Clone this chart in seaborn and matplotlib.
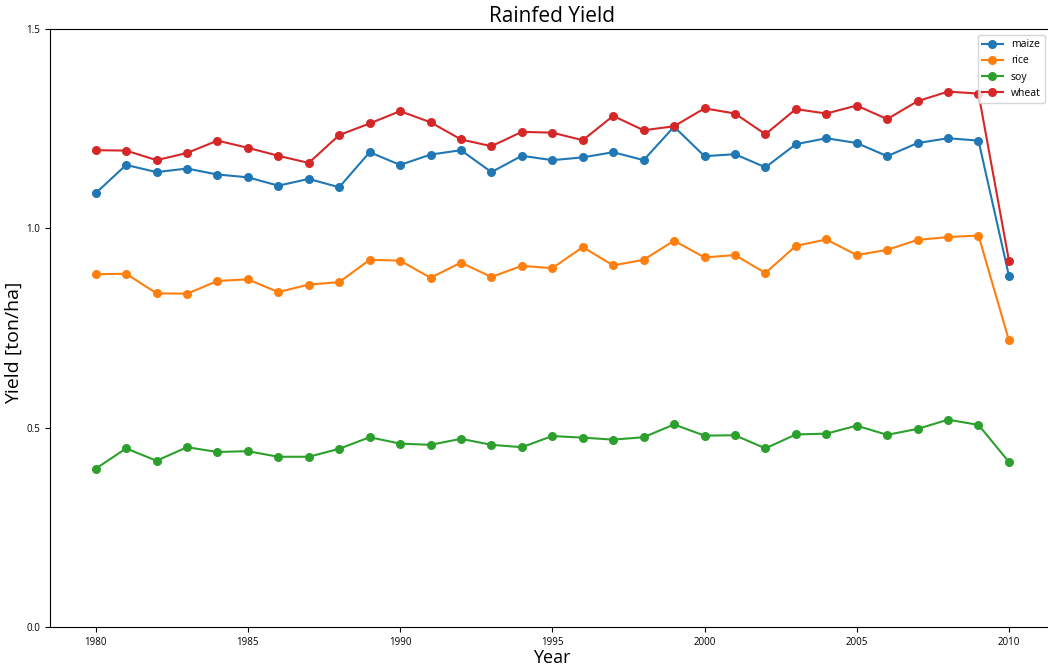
import numpy as np
import pandas as pd
import matplotlib
matplotlib.use("Agg")
import matplotlib.pyplot as plt
import seaborn as sns

years = list(range(1980, 2011))

maize = [1.088, 1.159, 1.141, 1.150, 1.135, 1.128, 1.107, 1.124, 1.103, 1.191,
         1.159, 1.185, 1.196, 1.141, 1.182, 1.171, 1.178, 1.191, 1.171, 1.255,
         1.181, 1.186, 1.153, 1.211, 1.226, 1.214, 1.181, 1.214, 1.226, 1.220,
         0.881]
rice = [0.885, 0.886, 0.837, 0.836, 0.868, 0.872, 0.840, 0.859, 0.865, 0.921,
        0.919, 0.876, 0.914, 0.878, 0.906, 0.900, 0.953, 0.907, 0.921, 0.969,
        0.927, 0.933, 0.888, 0.956, 0.972, 0.933, 0.946, 0.971, 0.978, 0.982,
        0.719]
soy = [0.397, 0.448, 0.417, 0.451, 0.439, 0.441, 0.427, 0.427, 0.447, 0.476,
       0.460, 0.457, 0.472, 0.457, 0.451, 0.479, 0.475, 0.470, 0.476, 0.508,
       0.480, 0.481, 0.448, 0.483, 0.485, 0.505, 0.482, 0.497, 0.520, 0.507,
       0.414]
wheat = [1.196, 1.195, 1.171, 1.189, 1.220, 1.202, 1.182, 1.164, 1.234, 1.263,
         1.294, 1.266, 1.223, 1.206, 1.242, 1.240, 1.221, 1.282, 1.246, 1.256,
         1.301, 1.288, 1.236, 1.299, 1.288, 1.308, 1.274, 1.319, 1.343, 1.338,
         0.919]

crops = ["maize", "rice", "soy", "wheat"]
series = [maize, rice, soy, wheat]

df = pd.DataFrame({
    "Year": years * len(crops),
    "Yield": np.concatenate(series),
    "Crop": np.repeat(crops, len(years)),
})

plt.rcParams["font.family"] = ["Open Sans", "DejaVu Sans"]

fig = plt.figure(figsize=(10.48, 6.67), dpi=100)
ax = fig.add_axes([50 / 1048, 40 / 667, 1004.6 / 1048, 598 / 667])

palette = sns.color_palette("tab10", 4)
sns.lineplot(data=df, x="Year", y="Yield", hue="Crop", palette=palette,
             marker="o", markersize=6.5, markeredgewidth=0, linewidth=1.5,
             ax=ax)

ax.set_xlim(1978.5, 2011.5)
ax.set_ylim(0, 1.5)
ax.set_xticks(range(1980, 2011, 5))
ax.set_yticks([0.0, 0.5, 1.0, 1.5])
ax.tick_params(labelsize=7, length=3.5)

ax.set_title("Rainfed Yield", fontsize=15, pad=5)
ax.set_xlabel("Year", fontsize=13)
ax.set_ylabel("Yield [ton/ha]", fontsize=14)
ax.xaxis.set_label_coords(0.4997, -0.036)
ax.yaxis.set_label_coords(-0.027, 0.475)

ax.legend(loc="upper right", title=None, fontsize=7.5,
          bbox_to_anchor=(0.9935, 0.995), borderaxespad=0.3)

fig.savefig("out.png", dpi=100)
